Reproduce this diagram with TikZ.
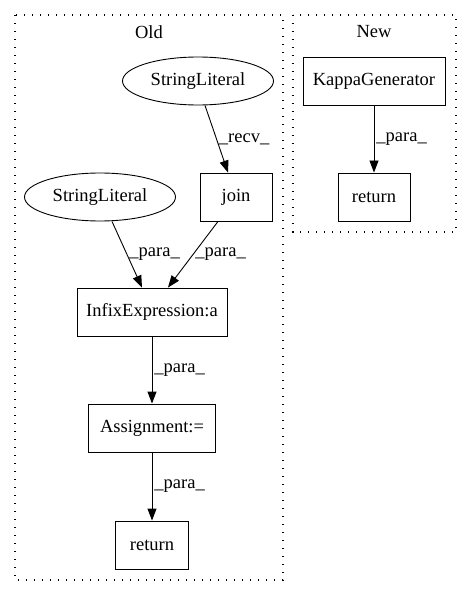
\documentclass[tikz,border=0pt]{standalone}
\usepackage{fontspec}
\setmainfont{Liberation Serif}
\usetikzlibrary{shapes.geometric, arrows.meta}

\begin{document}
\begin{tikzpicture}[x=1pt, y=-1pt, line width=0.9pt, >={Triangle[length=12pt, width=9pt]},
    every node/.style={font=\fontsize{18.5}{22}\selectfont, inner sep=2pt},
    box/.style={draw, rectangle, minimum height=48pt},
    lit/.style={draw, ellipse, minimum width=151pt, minimum height=48pt},
    cluster/.style={draw, line width=1.1pt, dash pattern=on 1.3pt off 6.7pt}]
    \useasboundingbox (0,0) rectangle (472,596);
    \draw[cluster] (15,15) rectangle (283,580);
    \draw[cluster] (293,15) rectangle (456,232);
    \node (old) at (149,32) {Old};
    \node (new) at (374,32) {New};

    \node[lit] (lit1) at (198,81) {StringLiteral};
    \node[lit] (lit2) at (100,197) {StringLiteral};
    \node[box, minimum width=72pt] (join) at (236,197) {join};
    \node[box, minimum width=150pt] (infix) at (152,312) {InfixExpression:a};
    \node[box, minimum width=127pt] (assign) at (152,428) {Assignment:=};
    \node[box, minimum width=73pt] (ret1) at (152,545) {return};
    \node[box, minimum width=142pt] (kappa) at (374,81) {KappaGenerator};
    \node[box, minimum width=72pt] (ret2) at (374,197) {return};

    \draw[->] ([xshift=7pt]lit1.south) -- ([xshift=-8pt]join.north) node[midway, right] {\_recv\_};
    \draw[->] ([xshift=12pt]lit2.south) -- ([xshift=-10pt]infix.north) node[midway, right] {\_para\_};
    \draw[->] ([xshift=-18pt]join.south) -- ([xshift=16pt]infix.north) node[midway, right] {\_para\_};
    \draw[->] (infix) -- (assign) node[midway, right] {\_para\_};
    \draw[->] (assign) -- (ret1) node[midway, right] {\_para\_};
    \draw[->] (kappa) -- (ret2) node[midway, right] {\_para\_};
\end{tikzpicture}
\end{document}
